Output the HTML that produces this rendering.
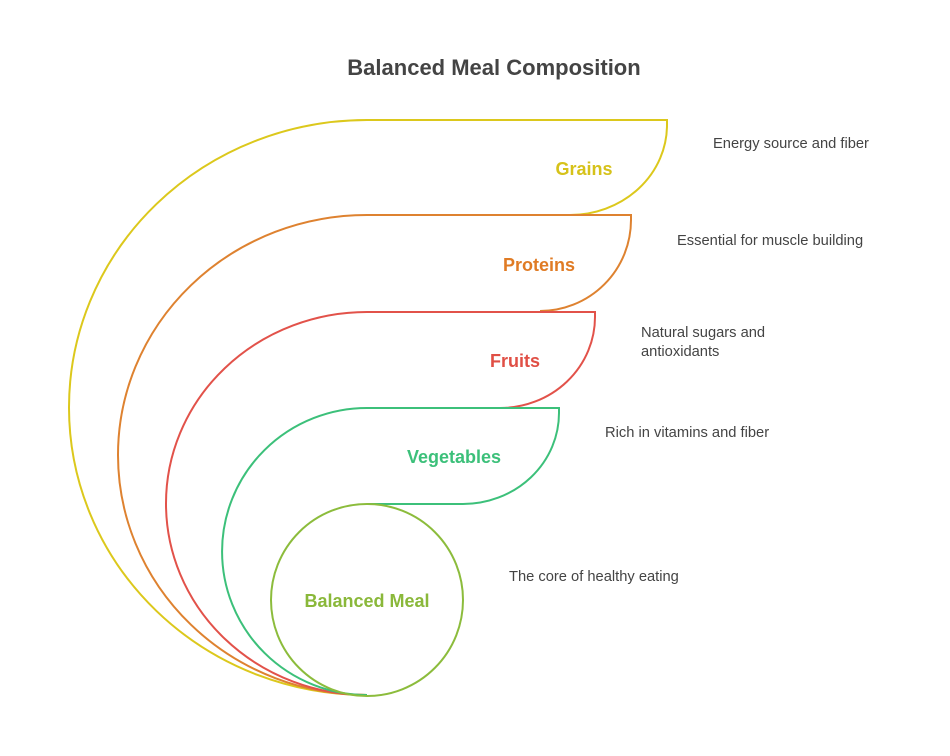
<!DOCTYPE html>
<html><head><meta charset="utf-8"><style>
body{margin:0;background:#fff;width:950px;height:756px;overflow:hidden}
svg{display:block}
text{font-family:"Liberation Sans",sans-serif}
</style></head><body>
<svg width="950" height="756" viewBox="0 0 950 756">
<text x="494" y="75" text-anchor="middle" font-size="22" font-weight="bold" fill="#444">Balanced Meal Composition</text>
<g fill="none" stroke-width="2">
<path d="M367 695 A298 287.5 0 0 1 367 120 L667 120 L667 125 A97 90 0 0 1 570 215" stroke="#dcc81c"/>
<path d="M367 695 A249 240 0 0 1 367 215 L631 215 L631 220 A91 91 0 0 1 540 311" stroke="#de8230"/>
<path d="M367 695 A201 191.5 0 0 1 367 312 L595 312 L595 317 A95 91 0 0 1 500 408" stroke="#e2524a"/>
<path d="M367 695 A145 143.5 0 0 1 367 408 L559 408 L559 413 A96 91 0 0 1 463 504 L367 504" stroke="#3cc07a"/>
<circle cx="367" cy="600" r="96" stroke="#8cbc3c"/>
</g>
<g font-weight="bold" font-size="18" text-anchor="middle">
<text x="584" y="175" fill="#d6c21a">Grains</text>
<text x="539" y="271" fill="#e07b24">Proteins</text>
<text x="515" y="367" fill="#e04f45">Fruits</text>
<text x="454" y="463" fill="#3cc07a">Vegetables</text>
<text x="367" y="607" fill="#8ab83a">Balanced Meal</text>
</g>
<g font-size="14.7" fill="#444">
<text x="713" y="148">Energy source and fiber</text>
<text x="677" y="245">Essential for muscle building</text>
<text x="641" y="337">Natural sugars and</text>
<text x="641" y="356">antioxidants</text>
<text x="605" y="437">Rich in vitamins and fiber</text>
<text x="509" y="581">The core of healthy eating</text>
</g>
</svg>
</body></html>
